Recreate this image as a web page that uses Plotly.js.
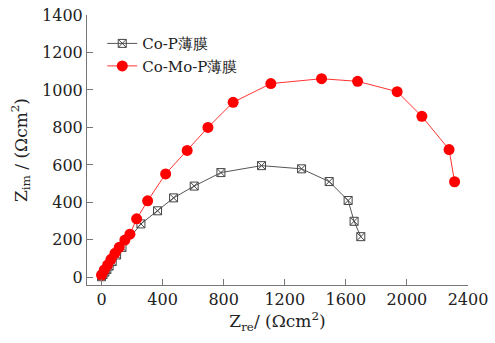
<!DOCTYPE html>
<html><head><meta charset="utf-8">
<script src="https://cdn.plot.ly/plotly-3.0.1.min.js"></script>
<style>html,body{margin:0;padding:0;background:#fff}#c{width:495px;height:343px}</style>
</head><body><div id="c"></div>
<script>
const seriesNames = ["Co-P薄膜", "Co-Mo-P薄膜"];
const coP_re = [0, 10, 22, 35, 50, 70, 99, 134, 258, 367, 472, 607, 782, 1048, 1310, 1491, 1615, 1654, 1698];
const coP_im = [3, 15, 28, 42, 60, 84, 119, 160, 285, 355, 424, 487, 559, 596, 579, 511, 410, 299, 217];
const coMoP_re = [0, 18, 40, 62, 88, 116, 153, 186, 230, 302, 420, 561, 697, 862, 1109, 1441, 1677, 1936, 2098, 2276, 2312];
const coMoP_im = [12, 39, 66, 96, 128, 160, 199, 230, 312, 408, 552, 677, 800, 934, 1034, 1060, 1046, 991, 859, 682, 510];
const xTicks = [0, 400, 800, 1200, 1600, 2000, 2400];
const yTicks = [0, 200, 400, 600, 800, 1000, 1200, 1400];

const serif = "DejaVu Serif";
const traces = [
  {x: coP_re, y: coP_im, name: seriesNames[0], mode: "lines+markers",
   line: {color: "#555", width: 1},
   marker: {symbol: "square-x-open", size: 8, color: "#444", line: {width: 1, color: "#444"}}},
  {x: coMoP_re, y: coMoP_im, name: seriesNames[1], mode: "lines+markers",
   line: {color: "#ff3333", width: 1},
   marker: {symbol: "circle", size: 11, color: "#ff0000"}}
];
const axisCommon = {showline: true, linecolor: "#777", linewidth: 1, ticks: "inside", ticklen: 6,
  tickcolor: "#777", showgrid: false, zeroline: false, tickfont: {family: serif, size: 16, color: "#222"}};
const layout = {
  width: 495, height: 343,
  margin: {l: 87, r: 27, t: 15, b: 58},
  paper_bgcolor: "#fff", plot_bgcolor: "#fff",
  showlegend: true,
  legend: {x: 0.04, y: 0.955, xanchor: "left", yanchor: "top", bgcolor: "rgba(0,0,0,0)",
    font: {family: serif, size: 15, color: "#222"}, tracegroupgap: 0},
  xaxis: Object.assign({}, axisCommon, {range: [-95, 2400], tickvals: xTicks,
    title: {text: "Z<sub>re</sub>/ (Ωcm<sup>2</sup>)", font: {family: serif, size: 17, color: "#222"}, standoff: 6}}),
  yaxis: Object.assign({}, axisCommon, {range: [-41, 1400], tickvals: yTicks,
    title: {text: "Z<sub>im</sub> / (Ωcm<sup>2</sup>)", font: {family: serif, size: 17, color: "#222"}, standoff: 10}})
};
Plotly.newPlot("c", traces, layout, {displayModeBar: false, staticPlot: true});
</script></body></html>
